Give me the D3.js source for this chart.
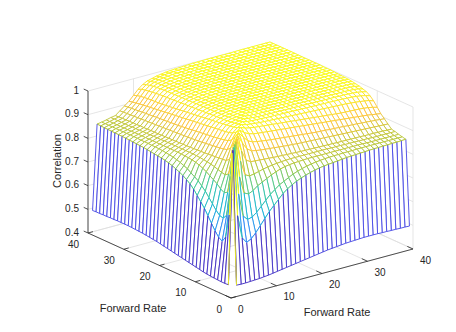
<!DOCTYPE html>
<html>
<head>
<meta charset="utf-8">
<script src="https://cdnjs.cloudflare.com/ajax/libs/d3/7.8.5/d3.min.js"></script>
<style>
    body { margin: 0; background: #fff; }
    text { font-family: "Liberation Sans", Arial, sans-serif; fill: #262626; }
</style>
</head>
<body>
<svg id="chart" width="456" height="332"></svg>
<script>
const rateTicks = [0, 10, 20, 30, 40];
const corrTicks = [0.4, 0.5, 0.6, 0.7, 0.8, 0.9, 1];
const parula = ['#3f2bc0', '#4752f4', '#2d87f7', '#11b1d6', '#37c897', '#abc739', '#fec338', '#f9fb14'];

// upper triangle of the correlation matrix, per mille, row i holds j = i+1 .. 40
const corrRows = [
    [437,436,436,437,438,439,441,443,446,449,452,455,458,461,464,467,470,473,476,479,482,484,486,488,490,491,492,493,494,494,494,494,493,493,492,492,491,491,490],
    [720,620,595,605,625,650,675,700,720,740,760,775,787,797,805,812,818,823,827,830,832,834,836,838,840,841,842,843,844,845,846,846,847,847,848,848,849,850],
    [800,700,680,685,700,720,740,760,775,790,800,810,820,827,833,838,842,845,847,849,850,851,851,852,852,852,853,853,853,853,853,853,853,853,853,853,853],
    [860,785,776,785,800,810,820,830,838,845,850,853,855,856,857,858,858,858,858,858,858,858,858,858,858,858,858,858,857,857,857,857,857,857,857,857],
    [915,850,840,843,848,853,857,860,862,864,865,866,866,866,866,866,866,866,866,866,865,865,865,864,864,864,863,863,863,862,862,862,862,862,862],
    [945,900,888,886,885,883,882,880,879,878,877,876,875,874,874,873,873,872,872,871,871,870,870,870,869,869,869,868,868,868,867,867,866,865],
    [965,935,922,918,915,913,911,909,907,905,903,902,900,899,898,897,896,895,894,893,892,891,890,889,888,887,886,885,884,883,882,881,880],
    [978,957,948,944,941,938,936,934,932,930,928,926,924,922,920,918,916,915,914,912,911,910,909,907,906,905,903,902,900,899,897,895],
    [985,975,970,967,965,963,961,959,957,955,953,951,949,947,945,943,941,939,937,935,933,931,929,927,925,923,921,919,916,913,910],
    [992,988,985,983,981,979,977,975,973,971,969,967,965,963,961,959,957,955,953,951,949,947,946,945,944,943,941,939,935,930],
    [995,992,990,988,987,986,985,984,983,982,981,980,979,978,977,976,975,974,973,972,971,970,969,967,965,963,960,957,950],
    [996,994,993,992,991,990,990,989,989,988,988,987,987,986,986,985,985,984,984,983,983,982,981,980,978,975,971,965],
    [997,995,994,993,993,992,992,992,991,991,991,990,990,990,989,989,989,988,988,988,987,987,986,985,983,980,975],
    [997,996,995,995,994,994,994,993,993,993,993,992,992,992,992,991,991,991,991,990,990,990,989,988,985,980],
    [998,997,996,996,995,995,995,995,994,994,994,994,994,994,993,993,993,993,993,992,992,992,991,989,985],
    [998,997,997,996,996,996,996,995,995,995,995,995,995,995,994,994,994,994,994,994,993,993,992,988],
    [998,998,997,997,997,996,996,996,996,996,996,996,996,996,996,995,995,995,995,995,995,994,991],
    [999,998,998,997,997,997,997,997,997,997,997,997,996,996,996,996,996,996,996,996,995,993],
    [999,998,998,998,998,998,997,997,997,997,997,997,997,997,997,997,997,996,996,996,994],
    [999,999,998,998,998,998,998,998,998,998,998,997,997,997,997,997,997,997,997,995],
    [999,999,999,998,998,998,998,998,998,998,998,998,998,998,998,998,998,997,996],
    [999,999,999,999,998,998,998,998,998,998,998,998,998,998,998,998,998,997],
    [999,999,999,999,999,999,998,998,998,998,998,998,998,998,998,998,998],
    [999,999,999,999,999,999,999,999,998,998,998,998,998,998,998,998],
    [999,999,999,999,999,999,999,999,999,999,998,998,998,998,998],
    [999,999,999,999,999,999,999,999,999,999,999,999,999,999],
    [1000,999,999,999,999,999,999,999,999,999,999,999,999],
    [1000,999,999,999,999,999,999,999,999,999,999,999],
    [1000,1000,999,999,999,999,999,999,999,999,999],
    [1000,1000,999,999,999,999,999,999,999,999],
    [1000,1000,1000,999,999,999,999,999,999],
    [1000,1000,1000,1000,999,999,999,999],
    [1000,1000,1000,1000,1000,1000,1000],
    [1000,1000,1000,1000,1000,1000],
    [1000,1000,1000,1000,1000],
    [1000,1000,1000,1000],
    [1000,1000,1000],
    [1000,1000],
    [1000]
];

// corr(i, j) with 1-based forward rate indices, matrix is symmetric
const corr = (i, j) => {
    if (i === j) return 1;
    const lo = Math.min(i, j);
    const hi = Math.max(i, j);
    return corrRows[lo - 1][hi - lo - 1] / 1000;
};

// axes of the box on screen, orthographic view
const corner = [231, 298];
const leftAxis = d3.scaleLinear().domain([0, 40]).range([[0, 0], [-143, -65]]);
const rightAxis = d3.scaleLinear().domain([0, 40]).range([[0, 0], [182, -49]]);
const zAxis = d3.scaleLinear().domain([0.4, 1]).range([0, 142]);

const project = (l, r, z) => {
    const a = leftAxis(l);
    const b = rightAxis(r);
    return [corner[0] + a[0] + b[0], corner[1] + a[1] + b[1] - zAxis(z)];
};

const allValues = [];
corrRows.forEach(row => row.forEach(v => allValues.push(v / 1000)));
const minCorr = d3.min(allValues);
const color = d3.scaleLinear()
    .domain(parula.map((c, k) => minCorr + (1 - minCorr) * k / (parula.length - 1)))
    .range(parula);

const svg = d3.select('#chart');
const pathLine = d3.line();

// grid
const grid = svg.append('g').attr('fill', 'none').attr('stroke', '#dedede').attr('stroke-width', 0.8);
const gridLine = pts => grid.append('path').attr('d', pathLine(pts));
rateTicks.forEach(t => {
    gridLine([project(t, 0, 0.4), project(t, 40, 0.4), project(t, 40, 1)]);
    gridLine([project(0, t, 0.4), project(40, t, 0.4), project(40, t, 1)]);
});
corrTicks.forEach(z => {
    gridLine([project(40, 0, z), project(40, 40, z), project(0, 40, z)]);
});

// mesh, painted from the far corner to the near one
const cells = [];
for (let i = 39; i >= 1; i--) {
    for (let j = 39; j >= 1; j--) {
        cells.push({ i, j });
    }
}
const vertex = (i, j) => project(j, i, corr(i, j));
const cell = svg.append('g').selectAll('g').data(cells).join('g');
cell.append('path')
    .attr('d', d => pathLine([vertex(d.i, d.j), vertex(d.i + 1, d.j), vertex(d.i + 1, d.j + 1), vertex(d.i, d.j + 1)]) + 'Z')
    .attr('fill', '#fff');
// each edge takes the colour of its first vertex, the near edges go on top
const edges = d => [
    { a: [d.i + 1, d.j], b: [d.i + 1, d.j + 1] },
    { a: [d.i, d.j + 1], b: [d.i + 1, d.j + 1] },
    { a: [d.i, d.j], b: [d.i + 1, d.j] },
    { a: [d.i, d.j], b: [d.i, d.j + 1] }
];
cell.selectAll('line').data(edges).join('line')
    .attr('x1', d => vertex(...d.a)[0])
    .attr('y1', d => vertex(...d.a)[1])
    .attr('x2', d => vertex(...d.b)[0])
    .attr('y2', d => vertex(...d.b)[1])
    .attr('stroke', d => color(corr(...d.a)))
    .attr('stroke-width', 0.9);

// axes
const axes = svg.append('g').attr('fill', 'none').attr('stroke', '#262626').attr('stroke-width', 0.8);
const axisLine = pts => axes.append('path').attr('d', pathLine(pts));
axisLine([project(40, 0, 1), project(40, 0, 0.4), project(0, 0, 0.4)]);
axisLine([project(0, 0, 0.4), project(0, 40, 0.4)]);

rateTicks.forEach(t => {
    axisLine([project(t, 0, 0.4), project(t, 1.1, 0.4)]);
    axisLine([project(0, t, 0.4), project(1.6, t, 0.4)]);
});
corrTicks.forEach(z => {
    axisLine([project(40, 0, z), project(41.2, 0, z)]);
});

const labels = svg.append('g').attr('font-size', 10);
labels.selectAll('.ztick').data(corrTicks).join('text')
    .attr('class', 'ztick')
    .attr('x', 79)
    .attr('y', d => project(40, 0, d)[1] - 1)
    .attr('dy', '0.35em')
    .attr('text-anchor', 'end')
    .text(d => d3.format('~g')(d));
labels.selectAll('.ltick').data(rateTicks).join('text')
    .attr('class', 'ltick')
    .attr('x', d => project(d, 0, 0.4)[0] - 9)
    .attr('y', d => project(d, 0, 0.4)[1] + 11)
    .attr('dy', '0.35em')
    .attr('text-anchor', 'end')
    .text(d => d);
labels.selectAll('.rtick').data(rateTicks).join('text')
    .attr('class', 'rtick')
    .attr('x', d => project(0, d, 0.4)[0] + 7)
    .attr('y', d => project(0, d, 0.4)[1] + 11)
    .attr('dy', '0.35em')
    .text(d => d);

const titles = svg.append('g').attr('font-size', 11).attr('text-anchor', 'middle');
titles.append('text').attr('x', 133).attr('y', 308).attr('dy', '0.35em').text('Forward Rate');
titles.append('text').attr('x', 337).attr('y', 312).attr('dy', '0.35em').text('Forward Rate');
titles.append('text').attr('transform', 'translate(57,161) rotate(-90)').attr('dy', '0.35em').text('Correlation');
</script>
</body>
</html>
